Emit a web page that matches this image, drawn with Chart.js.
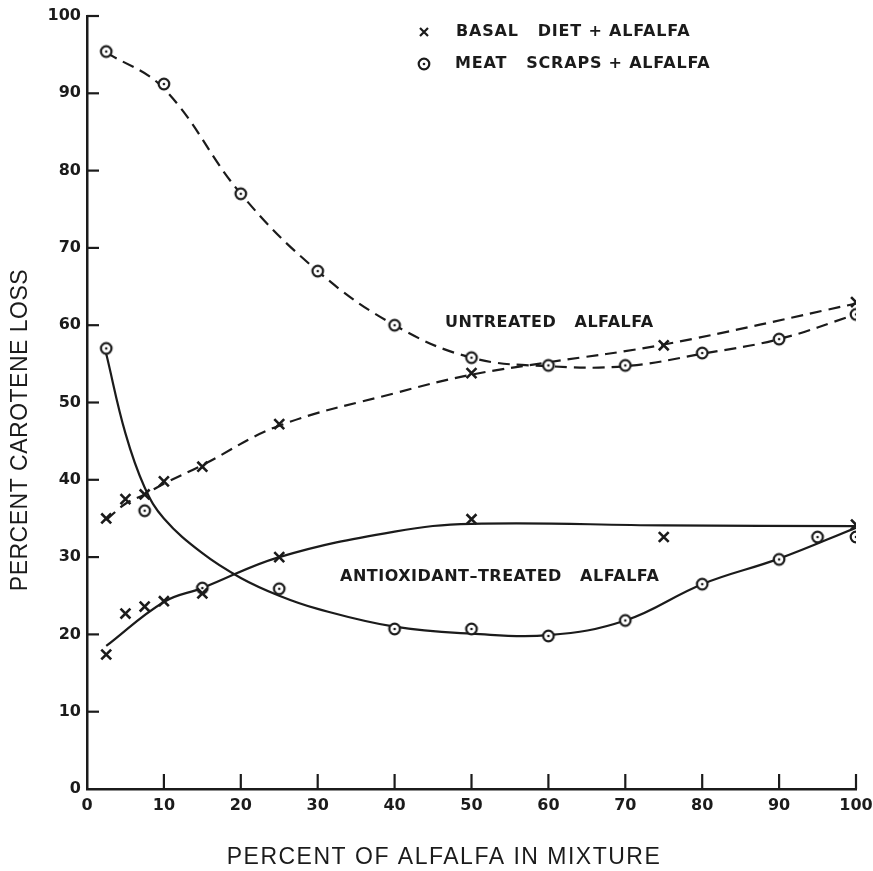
<!DOCTYPE html>
<html>
<head>
<meta charset="utf-8">
<script src="https://cdn.jsdelivr.net/npm/chart.js@4.4.1/dist/chart.umd.min.js"></script>
<style>
  html, body { margin: 0; padding: 0; background: #fff; }
  #wrap { width: 873px; height: 871px; }
</style>
</head>
<body>
<div id="wrap"><canvas id="chart"></canvas></div>
<script>
const basalUntrX = [2.5, 5, 7.5, 10, 15, 25, 50, 75, 100];
const basalUntrY = [35, 37.5, 38.1, 39.8, 41.7, 47.2, 53.8, 57.4, 63];
const basalTrX = [2.5, 5, 7.5, 10, 15, 25, 50, 75, 100];
const basalTrY = [17.4, 22.7, 23.6, 24.3, 25.3, 30, 34.9, 32.6, 34.2];

const meatUntrX = [2.5, 10, 20, 30, 40, 50, 60, 70, 80, 90, 100];
const meatUntrY = [95.4, 91.2, 77, 67, 60, 55.8, 54.8, 54.8, 56.4, 58.2, 61.4];
const meatTrX = [2.5, 7.5, 15, 25, 40, 50, 60, 70, 80, 90, 95, 100];
const meatTrY = [57, 36, 26, 25.9, 20.7, 20.7, 19.8, 21.8, 26.5, 29.7, 32.6, 32.6];

// ── Hand-drawn fitted curves ─────────────────────────────────────
const fitBasalUntrX = [2.5, 5, 7.5, 10, 15, 25, 40, 50, 60, 75, 100];
const fitBasalUntrY = [34.8, 36.9, 38.1, 39.5, 41.9, 47, 51.2, 53.6, 55.2, 57.5, 62.8];
const fitMeatUntrX = [2.5, 10, 20, 30, 40, 50, 60, 70, 80, 90, 100];
const fitMeatUntrY = [95.3, 90.6, 77, 67, 60, 55.8, 54.7, 54.7, 56.3, 58.2, 61.4];
const fitBasalTrX = [2.5, 10, 15, 25, 40, 50, 75, 100];
const fitBasalTrY = [18.5, 24.2, 26, 30, 33.3, 34.3, 34.1, 34];
const fitMeatTrX = [2.5, 5, 7.5, 10, 15, 20, 25, 30, 40, 50, 60, 70, 80, 90, 100];
const fitMeatTrY = [56.3, 46, 39, 35, 30.5, 27.3, 25, 23.3, 21, 20.1, 19.9, 21.8, 26.5, 29.8, 33.8];

const xTicks = [0, 10, 20, 30, 40, 50, 60, 70, 80, 90, 100];
const yTicks = [0, 10, 20, 30, 40, 50, 60, 70, 80, 90, 100];

const INK = '#1b1b1b';
const DASH = [12, 7];

const zip = (xs, ys) => xs.map((x, i) => ({ x, y: ys[i] }));

// circle-with-dot marker
function makeDotCircle() {
  const c = document.createElement('canvas');
  c.width = 16; c.height = 16;
  const g = c.getContext('2d');
  g.fillStyle = '#fff';
  g.strokeStyle = INK;
  g.lineWidth = 2.2;
  g.beginPath(); g.arc(8, 8, 5.3, 0, Math.PI * 2); g.fill(); g.stroke();
  g.fillStyle = INK;
  g.beginPath(); g.arc(8, 8, 1.3, 0, Math.PI * 2); g.fill();
  return c;
}
const dotCircle = makeDotCircle();

function curve(xs, ys, dashed) {
  return {
    type: 'line', data: zip(xs, ys),
    borderColor: INK, borderWidth: 2.2, borderDash: dashed ? DASH : [],
    pointRadius: 0, tension: 0.4, fill: false, order: 2,
  };
}
function crosses(xs, ys) {
  return {
    type: 'scatter', data: zip(xs, ys), showLine: false,
    pointStyle: 'crossRot', pointRadius: 7, pointBorderWidth: 2.6,
    pointBorderColor: INK, order: 1,
  };
}
function circles(xs, ys) {
  return {
    type: 'scatter', data: zip(xs, ys), showLine: false,
    pointStyle: dotCircle, pointRadius: 6, order: 1,
  };
}

// inward tick marks, axis titles, legend and curve labels
const decor = {
  id: 'decor',
  afterDatasetsDraw(chart) {
    const { ctx, scales: { x, y } } = chart;
    const x0 = x.getPixelForValue(0), y0 = y.getPixelForValue(0);
    ctx.save();
    ctx.strokeStyle = INK;
    ctx.lineWidth = 2.2;
    yTicks.slice(1).forEach(v => {
      const py = y.getPixelForValue(v);
      ctx.beginPath(); ctx.moveTo(x0, py); ctx.lineTo(x0 + 12, py); ctx.stroke();
    });
    xTicks.slice(1).forEach(v => {
      const px = x.getPixelForValue(v);
      ctx.beginPath(); ctx.moveTo(px, y0); ctx.lineTo(px, y0 - 15); ctx.stroke();
    });

    ctx.fillStyle = INK;
    ctx.textBaseline = 'middle';

    // axis titles
    ctx.font = '23px "Liberation Sans", Arial, sans-serif';
    ctx.letterSpacing = '1.5px';
    ctx.textAlign = 'center';
    ctx.fillText('PERCENT OF ALFALFA IN MIXTURE', 444, 858);
    ctx.letterSpacing = '0.5px';
    ctx.save();
    ctx.translate(21, 430);
    ctx.rotate(-Math.PI / 2);
    ctx.fillText('PERCENT CAROTENE LOSS', 0, 0);
    ctx.restore();

    // legend
    ctx.font = 'bold 16px "DejaVu Sans", sans-serif';
    ctx.letterSpacing = '0.8px';
    ctx.textAlign = 'left';
    ctx.fillText('BASAL   DIET + ALFALFA', 456, 32);
    ctx.fillText('MEAT   SCRAPS + ALFALFA', 455, 64);
    ctx.lineWidth = 2.2;
    ctx.beginPath();
    ctx.moveTo(420, 28); ctx.lineTo(428, 36);
    ctx.moveTo(428, 28); ctx.lineTo(420, 36);
    ctx.stroke();
    ctx.drawImage(dotCircle, 416, 56);

    // curve labels
    ctx.letterSpacing = '0.5px';
    ctx.fillText('UNTREATED   ALFALFA', 445, 323);
    ctx.fillText('ANTIOXIDANT\u2013TREATED   ALFALFA', 340, 577);
    ctx.restore();
  },
};

const tickFont = { family: '"DejaVu Sans", sans-serif', size: 16, weight: 'bold' };

new Chart(document.getElementById('chart'), {
  data: {
    datasets: [
      curve(fitMeatUntrX, fitMeatUntrY, true),
      curve(fitBasalUntrX, fitBasalUntrY, true),
      curve(fitBasalTrX, fitBasalTrY, false),
      curve(fitMeatTrX, fitMeatTrY, false),
      crosses(basalUntrX, basalUntrY),
      crosses(basalTrX, basalTrY),
      circles(meatUntrX, meatUntrY),
      circles(meatTrX, meatTrY),
    ],
  },
  options: {
    responsive: true, maintainAspectRatio: false, animation: false,
    // right padding leaves room for the "100" label at the canvas edge
    layout: { padding: { left: 0, top: 16, right: 17, bottom: 0 } },
    plugins: { legend: { display: false }, tooltip: { enabled: false } },
    scales: {
      x: {
        type: 'linear', min: 0, max: 100,
        grid: { display: false, drawTicks: false, tickLength: 0 },
        border: { display: true, color: INK, width: 2.5 },
        ticks: { stepSize: 10, color: INK, padding: 7, font: tickFont },
        afterBuildTicks(s) { s.ticks = xTicks.map(v => ({ value: v })); },
        afterFit(s) { s.height = 82; s.paddingLeft = 0; s.paddingRight = 0; },
      },
      y: {
        type: 'linear', min: 0, max: 100,
        grid: { display: false, drawTicks: false, tickLength: 0 },
        border: { display: true, color: INK, width: 2.5 },
        ticks: { stepSize: 10, color: INK, font: tickFont, padding: 6 },
        afterBuildTicks(s) { s.ticks = yTicks.map(v => ({ value: v })); },
        afterFit(s) { s.width = 87; s.paddingTop = 0; s.paddingBottom = 0; },
      },
    },
  },
  plugins: [decor],
});
</script>
</body>
</html>
